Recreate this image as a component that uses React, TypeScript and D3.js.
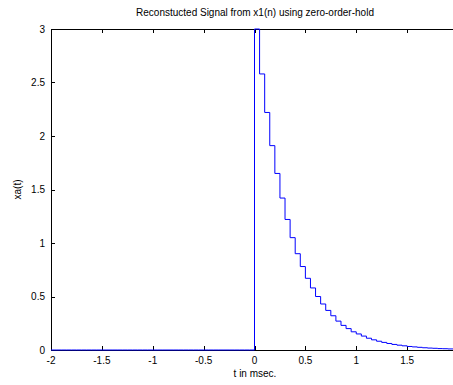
import { useRef, useEffect } from "react";
import * as d3 from "d3";

// sample period (msec) and start time of the held signal
const startT = -2;
const sampleT = 0.05;

// x1(n) for t < 0 is zero (40 samples from -2 to -0.05)
const negativeValues = new Array(40).fill(0);

// x1(n) for t >= 0
const positiveValues = [
  3.0, 2.58, 2.22, 1.91, 1.65, 1.42, 1.22, 1.05, 0.9, 0.78, 0.67, 0.58, 0.5,
  0.43, 0.37, 0.32, 0.27, 0.23, 0.2, 0.17, 0.15, 0.13, 0.11, 0.095, 0.082,
  0.071, 0.061, 0.052, 0.045, 0.039, 0.033, 0.029, 0.025, 0.021, 0.018, 0.016,
  0.013, 0.012, 0.01, 0.009, 0.008,
];

const xTicks = [-2, -1.5, -1, -0.5, 0, 0.5, 1, 1.5];
const yTicks = [0, 0.5, 1, 1.5, 2, 2.5, 3];

const title = "Reconstucted Signal from x1(n) using zero-order-hold";
const xLabel = "t in msec.";
const yLabel = "xa(t)";

const App = () => {
  const svgRef = useRef<SVGSVGElement>(null);

  useEffect(() => {
    const svg = d3.select(svgRef.current);
    svg.selectAll("*").remove();

    const width = 453;
    const height = 385;
    const left = 51;
    const top = 29;
    const bottom = 350;
    const font = "'Liberation Sans', Arial, sans-serif";

    const x = d3.scaleLinear().domain([-2, 2]).range([left, 458]);
    const y = d3.scaleLinear().domain([0, 3]).range([bottom, top]);

    svg.attr("width", width).attr("height", height);
    svg.append("rect").attr("width", width).attr("height", height).attr("fill", "#fff");

    const values = [...negativeValues, ...positiveValues];
    const pts: [number, number][] = values.map((v, i) => [startT + i * sampleT, v]);

    svg
      .append("defs")
      .append("clipPath")
      .attr("id", "plotclip")
      .append("rect")
      .attr("x", left)
      .attr("y", top - 1)
      .attr("width", 458 - left)
      .attr("height", bottom - top + 2);

    // axes box (top, left, bottom)
    const axes = svg.append("g").attr("stroke", "#000").attr("stroke-width", 1);
    axes.append("line").attr("x1", left).attr("x2", 458).attr("y1", bottom + 0.5).attr("y2", bottom + 0.5);
    axes.append("line").attr("x1", left).attr("x2", 458).attr("y1", top + 0.5).attr("y2", top + 0.5);
    axes.append("line").attr("x1", left + 0.5).attr("x2", left + 0.5).attr("y1", top).attr("y2", bottom + 1);

    const tickLen = 4;
    xTicks.forEach((t) => {
      const px = Math.round(x(t)) + 0.5;
      axes.append("line").attr("x1", px).attr("x2", px).attr("y1", bottom).attr("y2", bottom - tickLen);
      axes.append("line").attr("x1", px).attr("x2", px).attr("y1", top).attr("y2", top + tickLen);
    });
    yTicks.forEach((v) => {
      const py = Math.round(y(v)) + 0.5;
      axes.append("line").attr("x1", left).attr("x2", left + tickLen).attr("y1", py).attr("y2", py);
    });

    const line = d3
      .line<[number, number]>()
      .x((d) => x(d[0]))
      .y((d) => y(d[1]))
      .curve(d3.curveStepAfter);

    svg
      .append("path")
      .datum(pts)
      .attr("clip-path", "url(#plotclip)")
      .attr("d", line)
      .attr("fill", "none")
      .attr("stroke", "#0000ff")
      .attr("stroke-width", 1);

    const text = svg.append("g").attr("font-family", font).attr("font-size", 10).attr("fill", "#000");

    xTicks.forEach((t) => {
      text
        .append("text")
        .attr("x", x(t))
        .attr("y", bottom + 14)
        .attr("text-anchor", "middle")
        .text(String(t));
    });
    yTicks.forEach((v) => {
      text
        .append("text")
        .attr("x", left - 6)
        .attr("y", y(v) + 3.5)
        .attr("text-anchor", "end")
        .text(String(v));
    });

    text.append("text").attr("x", 255).attr("y", 16).attr("text-anchor", "middle").text(title);
    text.append("text").attr("x", 255).attr("y", 377).attr("text-anchor", "middle").text(xLabel);
    text
      .append("text")
      .attr("transform", `translate(21, ${(top + bottom) / 2}) rotate(-90)`)
      .attr("text-anchor", "middle")
      .text(yLabel);
  }, []);

  return <svg ref={svgRef} style={{ position: "absolute", left: 0, top: 0 }} />;
};

export default App;
